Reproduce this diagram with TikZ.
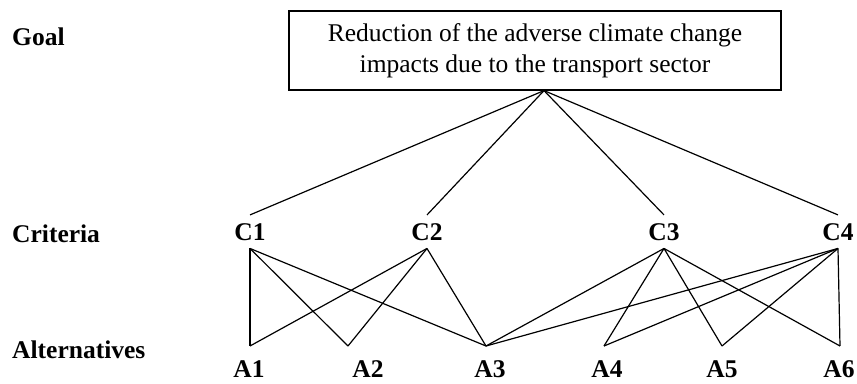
\documentclass[tikz,border=0pt]{standalone}
\usepackage{fontspec}
\setmainfont{Liberation Serif}
\usepackage{tikz}
\usetikzlibrary{positioning, calc}

\tikzset{
    goalbox/.style={draw, line width=1.2pt, minimum width=492pt, minimum height=79pt,
        align=center, font=\fontsize{25.5}{31}\selectfont},
    level/.style={anchor=base west, inner sep=0pt, font=\fontsize{25.5}{31}\selectfont\bfseries},
    crit/.style={anchor=base, inner xsep=0pt, inner ysep=8pt, font=\fontsize{25.5}{31}\selectfont\bfseries},
    alt/.style={anchor=base, inner sep=0pt, font=\fontsize{25.5}{31}\selectfont\bfseries},
    link/.style={black, line width=1.2pt}
}

\begin{document}
\begin{tikzpicture}[x=1pt, y=-1pt]
    \useasboundingbox (0,0) rectangle (857,383);

    % level names
    \node[level] (lgoal) at (12,45) {Goal};
    \node[level] (lcrit) at (12,242) {Criteria};
    \node[level] (lalt) at (12,358) {Alternatives};

    % goal
    \node[goalbox] (goal) at (535,50.5)
        {Reduction of the adverse climate change\\impacts due to the transport sector};
    \coordinate (apex) at ([xshift=9pt]goal.south);

    % criteria
    \foreach \name/\x in {c1/250, c2/427, c3/664, c4/838}
    {
        \node[crit] (\name) at (\x,240) {\MakeUppercase{\name}};
    }

    % alternatives
    \coordinate (p1) at (250,346);
    \coordinate (p2) at (348,346);
    \coordinate (p3) at (486,346);
    \coordinate (p4) at (604,346);
    \coordinate (p5) at (722,346);
    \coordinate (p6) at (840,346);
    \foreach \name/\x/\i in {a1/249/1, a2/368/2, a3/490/3, a4/607/4, a5/722/5, a6/839/6}
    {
        \node[alt] (\name) at (\x,377) {A\i};
    }

    % goal to criteria
    \foreach \c in {c1, c2, c3, c4}
    {
        \draw[link] (apex) -- (\c.north);
    }

    % criteria to alternatives
    \foreach \c/\p in {c1/p1, c1/p2, c1/p3, c2/p1, c2/p2, c2/p3,
                       c3/p3, c3/p4, c3/p5, c3/p6, c4/p3, c4/p4, c4/p5, c4/p6}
    {
        \draw[link] (\c.south) -- (\p);
    }
\end{tikzpicture}
\end{document}
